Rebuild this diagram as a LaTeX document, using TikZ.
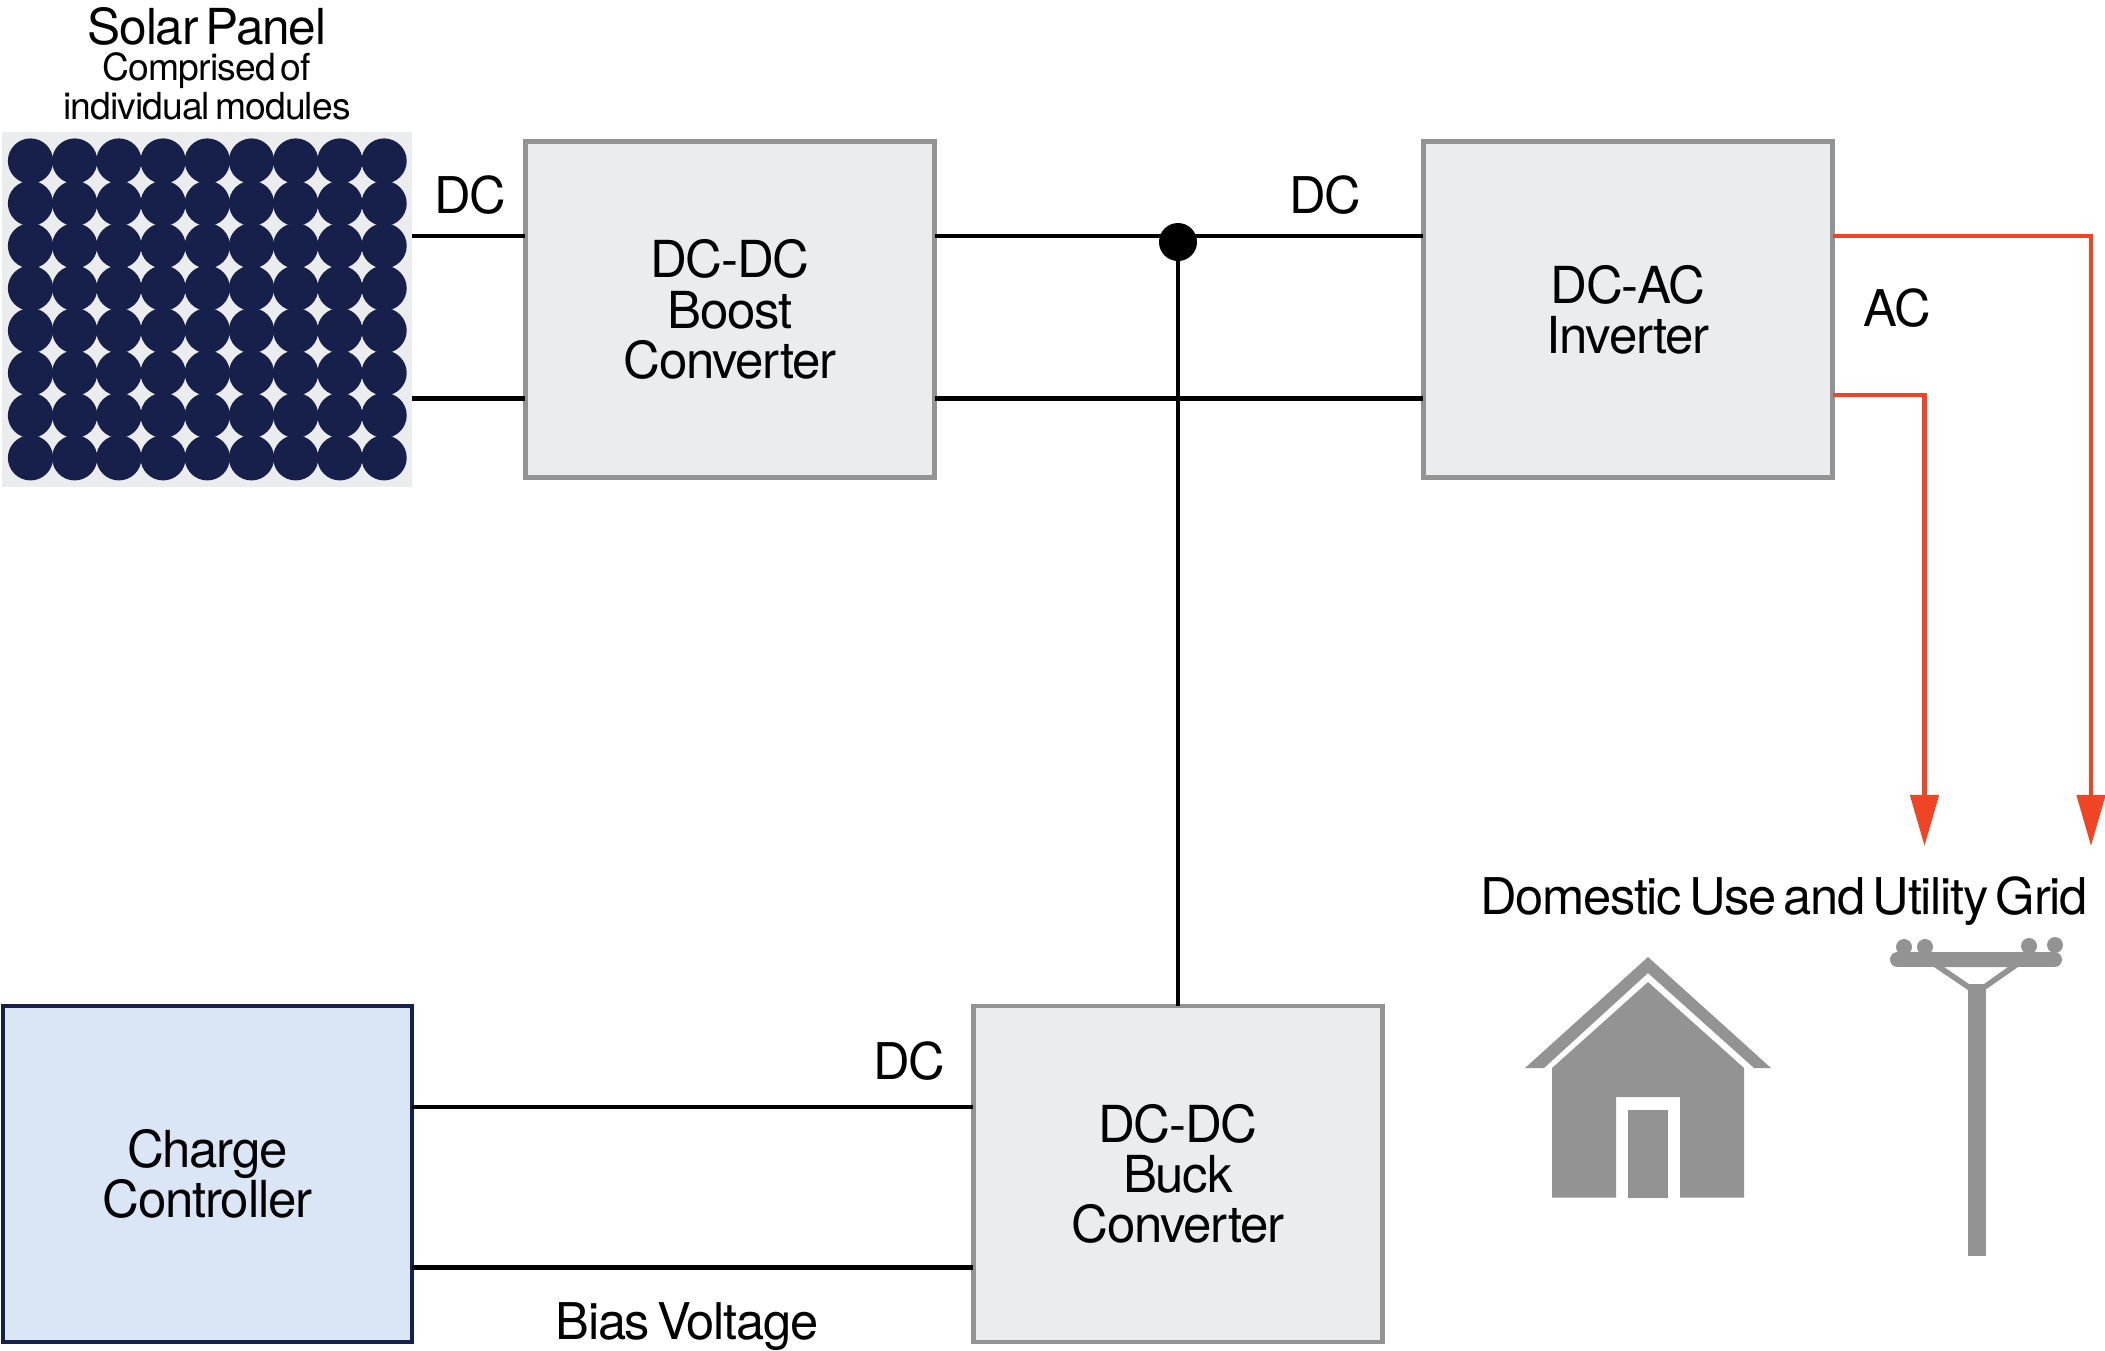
\documentclass[tikz,border=0pt]{standalone}
\usepackage{fontspec}
\setmainfont[LetterSpace=-2.5,WordSpace=0.55]{TeX Gyre Heros}
\usetikzlibrary{calc}
\usetikzlibrary{arrows.meta}
\definecolor{BoxGrey}{HTML}{EBECEE}
\definecolor{EdgeGrey}{HTML}{939393}
\definecolor{PanelNavy}{HTML}{16204A}
\definecolor{ChargeBlue}{HTML}{DAE6F6}
\definecolor{FeedRed}{HTML}{F04525}
\tikzstyle{bloc}     =[draw=EdgeGrey, fill=BoxGrey, line width=0.045cm, minimum width=4.09cm, minimum height=3.36cm, inner sep=0, outer sep=0, align=center, font=\fontsize{14.5}{14.3}\selectfont]
\tikzstyle{blocbleu} =[bloc, draw=PanelNavy, fill=ChargeBlue]
\tikzstyle{etiquette}=[inner sep=0, font=\fontsize{14.4}{14.3}\selectfont, align=center]
\tikzstyle{petite}   =[inner sep=0, font=\fontsize{10.6}{11}\selectfont, align=center]
\tikzstyle{fil}      =[line width=0.045cm, color=black]
\tikzstyle{filrouge} =[line width=0.045cm, color=FeedRed, -{Triangle[length=0.51cm,width=0.28cm]}]
\begin{document}
\begin{tikzpicture}[x=0.01cm,y=-0.01cm]
 \useasboundingbox (0,0) rectangle (2105,1350);
 % solar panel
 \node[fill=BoxGrey, minimum width=4.095cm, minimum height=3.55cm, inner sep=0, outer sep=0] (panel) at (207.2,309.5) {};
 \foreach \i in {0,...,8}
  \foreach \j in {0,...,7}
   \fill[PanelNavy] (30.5+44.2*\i,161+42.4*\j) ellipse [x radius=0.226cm, y radius=0.226cm];
 \node[etiquette, font=\fontsize{14.1}{14.3}\selectfont] (titre) at (207,26) {Solar Panel};
 \node[petite] (soustitre) at (207,86.5) {Comprised of\\individual modules};
 % boxes
 \node[bloc] (boost) at (730,309.5) {DC-DC\\Boost\\Converter};
 \node[bloc] (inverter) at (1628,309.5) {DC-AC\\Inverter};
 \node[bloc] (buck) at (1178,1174) {DC-DC\\Buck\\Converter};
 \node[blocbleu] (charge) at (207.5,1174) {Charge\\Controller};
 % levels of the wires
 \coordinate (haut) at (0,236);
 \coordinate (bas) at (0,398.5);
 \coordinate (redbas) at (0,395);
 \coordinate (dchaut) at (0,1107);
 \coordinate (dcbas) at (0,1267.5);
 \coordinate (pointe1) at (1924.5,846);
 \coordinate (pointe2) at (2091,846);
 \node[circle, fill=black, minimum size=0.38cm, inner sep=0, outer sep=0] (noeud) at (1178,242) {};
 % wires
 \draw[fil] (panel.east |- haut) -- (boost.west |- haut);
 \draw[fil] (panel.east |- bas) -- (boost.west |- bas);
 \draw[fil] (boost.east |- haut) -- (inverter.west |- haut);
 \draw[fil] (boost.east |- bas) -- (inverter.west |- bas);
 \draw[fil] (noeud) -- (buck.north);
 \draw[fil] (charge.east |- dchaut) -- (buck.west |- dchaut);
 \draw[fil] (charge.east |- dcbas) -- (buck.west |- dcbas);
 \draw[filrouge] (inverter.east |- haut) -| (pointe2);
 \draw[filrouge] (inverter.east |- redbas) -| (pointe1);
 % labels
 \node[etiquette] (dcA) at (470,195) {DC};
 \node[etiquette] (dcB) at (1325,195) {DC};
 \node[etiquette] (ac) at (1897,308) {AC};
 \node[etiquette] (dcC) at (909,1061) {DC};
 \node[etiquette] (bias) at (687,1327) {Bias Voltage};
 \node[etiquette] (domestic) at (1784,901) {Domestic Use and Utility Grid};
 % house
 \fill[EdgeGrey] (1648,957)--(1771,1068)--(1754,1068)--(1648,973)--(1544,1068)--(1525,1068)--cycle;
 \fill[EdgeGrey] (1648,982)--(1744,1068)--(1744,1197.5)--(1680,1197.5)--(1680,1097)--(1616,1097)--(1616,1197.5)--(1552,1197.5)--(1552,1068)--cycle;
 \fill[EdgeGrey] (1628,1110) rectangle (1668,1197.5);
 % pole
 \fill[EdgeGrey] (1967.5,984) rectangle (1985.5,1256);
 \draw[EdgeGrey, line width=0.15cm, line cap=round] (1897.5,959.5) -- (2054.5,959.5);
 \fill[EdgeGrey, even odd rule] (1934,967)--(1968,990)--(1985,990)--(2018,967)--cycle (1944,967)--(1969,984)--(1984,984)--(2008,967)--cycle;
 \foreach \x/\y in {1904/947,1925/947,2029/946,2055/945}
  \fill[EdgeGrey] (\x,\y) circle [radius=0.08cm];
\end{tikzpicture}
\end{document}
